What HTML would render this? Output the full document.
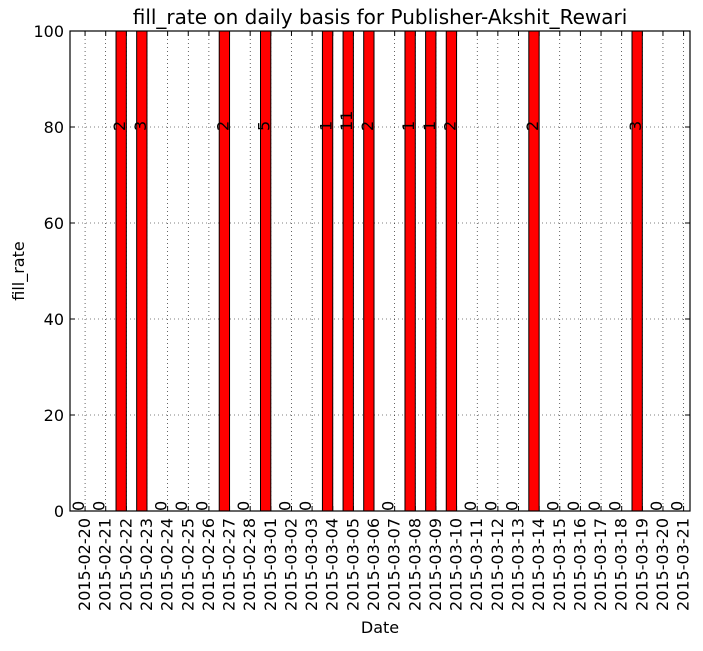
<!DOCTYPE html>
<html><head><meta charset="utf-8"><style>
body{margin:0;background:#fff;}
svg{font-family:"DejaVu Sans","Liberation Sans",sans-serif;}
</style></head><body>
<svg id="chart" width="703" height="646" xmlns="http://www.w3.org/2000/svg"></svg>
<script>
const categories=["2015-02-20","2015-02-21","2015-02-22","2015-02-23","2015-02-24","2015-02-25","2015-02-26","2015-02-27","2015-02-28","2015-03-01","2015-03-02","2015-03-03","2015-03-04","2015-03-05","2015-03-06","2015-03-07","2015-03-08","2015-03-09","2015-03-10","2015-03-11","2015-03-12","2015-03-13","2015-03-14","2015-03-15","2015-03-16","2015-03-17","2015-03-18","2015-03-19","2015-03-20","2015-03-21"];
const fillRate=[0,0,100,100,0,0,0,100,0,100,0,0,100,100,100,0,100,100,100,0,0,0,100,0,0,0,0,100,0,0];
const counts=[0,0,2,3,0,0,0,2,0,5,0,0,1,11,2,0,1,1,2,0,0,0,2,0,0,0,0,3,0,0];
const yTicks=[0,20,40,60,80,100];

const svg=document.getElementById('chart');
const NS='http://www.w3.org/2000/svg';
const L=70,R=690,T=31,B=511;
const xmin=-0.73,xmax=29.31;
const x=i=>L+(i-xmin)/(xmax-xmin)*(R-L);
const y=v=>B-(v/100)*(B-T);
const step=(R-L)/(xmax-xmin);
function mk(tag,attrs,parent){const e=document.createElementNS(NS,tag);for(const k in attrs)e.setAttribute(k,attrs[k]);(parent||svg).appendChild(e);return e;}

yTicks.forEach(v=>{
  const g=mk('line',{x1:L,x2:R,y1:y(v),y2:y(v),stroke:'#000','stroke-width':0.6,'stroke-dasharray':'1,3'});
  
  
  const t=mk('text',{x:L-6,y:y(v)+6,'text-anchor':'end','font-size':16});
  t.textContent=v;
  
  
  mk('line',{x1:L,x2:L+5,y1:y(v),y2:y(v),stroke:'#000'});
  mk('line',{x1:R,x2:R-5,y1:y(v),y2:y(v),stroke:'#000'});
});
categories.forEach((c,i)=>{
  const g=mk('line',{x1:x(i),x2:x(i),y1:T,y2:B,stroke:'#000','stroke-width':0.6,'stroke-dasharray':'1,3'});
  
  
  mk('line',{x1:x(i),x2:x(i),y1:B,y2:B-5,stroke:'#000'});
  mk('line',{x1:x(i),x2:x(i),y1:T,y2:T+5,stroke:'#000'});
  const t=mk('text',{transform:`translate(${x(i)+5},${B+7}) rotate(-90)`,'text-anchor':'end','font-size':16});
  t.textContent=c;
  
  
});
fillRate.forEach((v,i)=>{
  const w=step*0.5;
  if(v>0){
    const b=mk('rect',{x:x(i)-w,y:y(v),width:w,height:y(0)-y(v),fill:'#ff0000',stroke:'#000','stroke-width':1});
    
    
  }
  const lv=v*0.8;
  const t=mk('text',{transform:`translate(${x(i)-w/2+4},${y(lv)+(v>0?4:0)}) rotate(-90)`,'text-anchor':'start','font-size':16});
  t.textContent=counts[i];
  
  
});
const fr=mk('rect',{x:L,y:T,width:R-L,height:B-T,fill:'none',stroke:'#000','stroke-width':1.2});


const ti=mk('text',{x:(L+R)/2,y:24,'text-anchor':'middle','font-size':20});
ti.textContent='fill_rate on daily basis for Publisher-Akshit_Rewari';


const xt=mk('text',{x:(L+R)/2,y:633,'text-anchor':'middle','font-size':16});
xt.textContent='Date';


const yt=mk('text',{transform:`translate(24,${(T+B)/2}) rotate(-90)`,'text-anchor':'middle','font-size':16});
yt.textContent='fill_rate';


</script>
</body></html>
